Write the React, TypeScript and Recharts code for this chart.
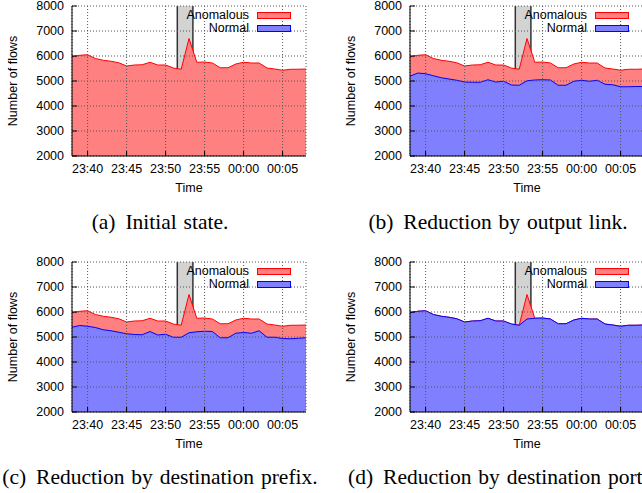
import { ComposedChart, Area, XAxis, YAxis, CartesianGrid, ReferenceArea, ReferenceLine, Legend, Label } from "recharts";

const times = [
    "23:38", "23:39", "23:40", "23:41", "23:42", "23:43", "23:44", "23:45", "23:46", "23:47",
    "23:48", "23:49", "23:50", "23:51", "23:52", "23:53", "23:54", "23:55", "23:56", "23:57",
    "23:58", "23:59", "00:00", "00:01", "00:02", "00:03", "00:04", "00:05", "00:06", "00:07", "00:08",
];
const tickLabels = ["23:40", "23:45", "23:50", "23:55", "00:00", "00:05"];
const yTicks = [2000, 3000, 4000, 5000, 6000, 7000, 8000];

// anomaly window, in minutes from 23:38
const anomalyWindow = [13.5, 15.5];

const totalFlows = [
    5970, 6030, 6050, 5900, 5830, 5790, 5730, 5600, 5640, 5650,
    5750, 5640, 5640, 5520, 5470, 6700, 5750, 5760, 5720, 5530,
    5530, 5680, 5750, 5720, 5720, 5520, 5480, 5430, 5470, 5470, 5480,
];
const normalByOutputLink = [
    5190, 5320, 5290, 5210, 5130, 5080, 5030, 4960, 4950, 4950,
    5050, 4960, 4990, 4840, 4830, 5010, 5040, 5050, 5040, 4830,
    4830, 4990, 5030, 4990, 5030, 4870, 4850, 4770, 4770, 4780, 4780,
];
const normalByDestPrefix = [
    5390, 5460, 5430, 5380, 5290, 5250, 5190, 5130, 5100, 5090,
    5220, 5080, 5110, 4990, 4990, 5170, 5210, 5230, 5220, 4970,
    4970, 5150, 5180, 5150, 5250, 4990, 4990, 4940, 4930, 4950, 4970,
];
const normalByDestPort = [
    5970, 6030, 6050, 5900, 5830, 5790, 5730, 5600, 5640, 5650,
    5750, 5640, 5640, 5520, 5470, 5720, 5750, 5760, 5720, 5530,
    5530, 5680, 5750, 5720, 5720, 5520, 5480, 5430, 5470, 5470, 5480,
];

const SERIES = [
    { key: "total", label: "Anomalous", fill: "#ff8080", stroke: "#ff0000" },
    { key: "normal", label: "Normal", fill: "#8080ff", stroke: "#0000ff" },
];

const SANS = "'Liberation Sans', Arial, Helvetica, sans-serif";
const SERIF = "'Liberation Serif', 'Times New Roman', serif";

const majorTicks = tickLabels.map((l) => times.indexOf(l));
const minorTicks = times.map((_, i) => i);
const tickStyle = { fill: "#000", fontSize: 12.5, fontFamily: SANS };

const LegendBox = () => (
    <div style={{ fontFamily: SANS, fontSize: 12.5, color: "#000", width: 110 }}>
        {SERIES.map((s) => (
            <div key={s.key} style={{ display: "flex", alignItems: "center", height: 13 }}>
                <span style={{ width: 68, textAlign: "right", lineHeight: "13px" }}>{s.label}</span>
                <span
                    style={{
                        marginLeft: 8,
                        width: 32,
                        height: 5,
                        background: s.fill,
                        border: `1px solid ${s.stroke}`,
                    }}
                />
            </div>
        ))}
    </div>
);

const FlowPanel = ({ normal, left, top }: { normal: number[] | null; left: number; top: number }) => {
    const data = times.map((t, i) => ({
        x: i,
        time: t,
        total: totalFlows[i],
        normal: normal ? normal[i] : null,
    }));

    return (
        <div style={{ position: "absolute", left, top, width: 320, height: 200 }}>
            <ComposedChart
                width={320}
                height={200}
                data={data}
                margin={{ top: 6, right: 14, bottom: 0, left: 0 }}
                style={{ fontFamily: SANS }}
            >
                {/* minor ticks first so they sit on the plot edge */}
                <XAxis
                    xAxisId="minor"
                    dataKey="x"
                    type="number"
                    domain={[0, times.length - 1]}
                    ticks={minorTicks}
                    tick={false}
                    tickSize={-2}
                    tickLine={{ stroke: "#000" }}
                    axisLine={false}
                    height={0}
                />
                <XAxis
                    xAxisId="bottom"
                    dataKey="x"
                    type="number"
                    domain={[0, times.length - 1]}
                    ticks={majorTicks}
                    tickFormatter={(v) => times[v]}
                    tick={tickStyle}
                    tickSize={-5}
                    tickMargin={13}
                    tickLine={{ stroke: "#000" }}
                    axisLine={{ stroke: "#000" }}
                    height={44}
                    interval={0}
                >
                    <Label
                        content={({ viewBox }: any) => (
                            <text
                                x={viewBox.x + viewBox.width / 2}
                                y={viewBox.y + 32}
                                textAnchor="middle"
                                dominantBaseline="central"
                                fontSize={12.5}
                                fontFamily={SANS}
                                fill="#000"
                            >
                                Time
                            </text>
                        )}
                    />
                </XAxis>
                <XAxis
                    xAxisId="top"
                    orientation="top"
                    dataKey="x"
                    type="number"
                    domain={[0, times.length - 1]}
                    ticks={majorTicks}
                    tick={false}
                    tickSize={-5}
                    tickLine={{ stroke: "#000" }}
                    axisLine={{ stroke: "#000" }}
                    height={0}
                />
                <YAxis
                    yAxisId="left"
                    type="number"
                    domain={[2000, 8000]}
                    ticks={yTicks}
                    tick={tickStyle}
                    tickSize={-5}
                    tickMargin={13}
                    tickLine={{ stroke: "#000" }}
                    axisLine={{ stroke: "#000" }}
                    width={72}
                    interval={0}
                >
                    <Label
                        content={({ viewBox }: any) => {
                            const cx = viewBox.x + 13;
                            const cy = viewBox.y + viewBox.height / 2;
                            return (
                                <text
                                    x={cx}
                                    y={cy}
                                    transform={`rotate(-90, ${cx}, ${cy})`}
                                    textAnchor="middle"
                                    dominantBaseline="central"
                                    fontSize={12.5}
                                    fontFamily={SANS}
                                    fill="#000"
                                >
                                    Number of flows
                                </text>
                            );
                        }}
                    />
                </YAxis>
                <YAxis
                    yAxisId="right"
                    orientation="right"
                    type="number"
                    domain={[2000, 8000]}
                    ticks={yTicks}
                    tick={false}
                    tickSize={-5}
                    tickLine={{ stroke: "#000" }}
                    axisLine={{ stroke: "#000" }}
                    width={0}
                />

                {/* anomaly window: gray band with dark edges, behind the areas */}
                <ReferenceArea
                    xAxisId="bottom"
                    yAxisId="left"
                    x1={anomalyWindow[0]}
                    x2={anomalyWindow[1]}
                    fill="#d3d3d3"
                    fillOpacity={1}
                    stroke="none"
                    zIndex={50}
                />
                {anomalyWindow.map((x) => (
                    <ReferenceLine
                        key={x}
                        xAxisId="bottom"
                        yAxisId="left"
                        x={x}
                        stroke="#333"
                        strokeWidth={1.5}
                        zIndex={60}
                    />
                ))}

                <Area
                    xAxisId="bottom"
                    yAxisId="left"
                    type="linear"
                    dataKey="total"
                    fill="#ff8080"
                    fillOpacity={1}
                    stroke="#ff0000"
                    strokeWidth={1}
                    dot={false}
                    activeDot={false}
                    isAnimationActive={false}
                />
                {normal && (
                    <Area
                        xAxisId="bottom"
                        yAxisId="left"
                        type="linear"
                        dataKey="normal"
                        fill="#8080ff"
                        fillOpacity={1}
                        stroke="#0000ff"
                        strokeWidth={1}
                        dot={false}
                        activeDot={false}
                        isAnimationActive={false}
                    />
                )}

                <CartesianGrid
                    xAxisId="bottom"
                    yAxisId="left"
                    stroke="#555"
                    strokeDasharray="1 2"
                    fill="none"
                    zIndex={150}
                />

                <Legend
                    layout="vertical"
                    align="center"
                    verticalAlign="middle"
                    wrapperStyle={{ left: 181, top: 9, width: 110, height: 26 }}
                    content={() => <LegendBox />}
                />
            </ComposedChart>
        </div>
    );
};

const Caption = ({ label, text, left, top }: { label: string; text: string; left: number; top: number }) => (
    <div
        style={{
            position: "absolute",
            left,
            top,
            width: 320,
            textAlign: "center",
            whiteSpace: "nowrap",
            fontFamily: SERIF,
            fontSize: 21.5,
            lineHeight: "21px",
            wordSpacing: 1.5,
            color: "#000",
        }}
    >
        <span style={{ paddingRight: 3 }}>{label}</span> {text}
    </div>
);

export default function App() {
    return (
        <div
            style={{
                position: "absolute",
                left: 0,
                top: 0,
                width: 642,
                height: 493,
                overflow: "hidden",
                background: "#fff",
            }}
        >
            <FlowPanel normal={null} left={0} top={0} />
            <FlowPanel normal={normalByOutputLink} left={338} top={0} />
            <FlowPanel normal={normalByDestPrefix} left={0} top={256} />
            <FlowPanel normal={normalByDestPort} left={338} top={256} />

            <Caption label="(a)" text="Initial state." left={0} top={212} />
            <Caption label="(b)" text="Reduction by output link." left={338} top={212} />
            <Caption label="(c)" text="Reduction by destination prefix." left={0} top={467} />
            <Caption label="(d)" text="Reduction by destination port." left={338} top={467} />
        </div>
    );
}
